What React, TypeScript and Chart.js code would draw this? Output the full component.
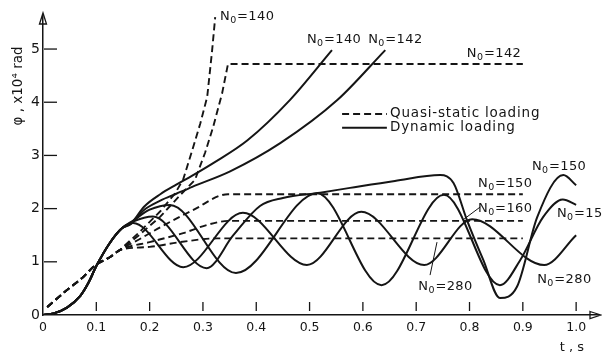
import React, { useEffect, useRef } from 'react';
import { Chart, registerables } from 'chart.js';

Chart.register(...registerables);

// ---------- axis ticks ----------
const tickT = [0, 0.1, 0.2, 0.3, 0.4, 0.5, 0.6, 0.7, 0.8, 0.9, 1.0];
const tickPhi = [0, 1, 2, 3, 4, 5];

// ---------- dynamic loading (solid) ----------
const dynTrunkT = [0, 0.02, 0.045, 0.07, 0.085, 0.1, 0.125, 0.148];
const dynTrunkPhi = [0, 0.03, 0.14, 0.36, 0.6, 0.92, 1.35, 1.63];

const dyn140T = [0.165, 0.19, 0.22, 0.25, 0.28, 0.32, 0.383, 0.463, 0.542];
const dyn140Phi = [1.72, 2.04, 2.27, 2.45, 2.62, 2.86, 3.28, 4.04, 4.98];

const dyn142T = [0.165, 0.19, 0.22, 0.25, 0.28, 0.351, 0.445, 0.552, 0.642];
const dyn142Phi = [1.71, 1.98, 2.15, 2.28, 2.41, 2.7, 3.23, 4.04, 4.98];

const dyn150T = [0.17, 0.206, 0.307, 0.357, 0.407, 0.45, 0.52, 0.576, 0.66, 0.745, 0.77, 0.795, 0.826, 0.857, 0.889, 0.927, 0.976, 1.0];
const dyn150Phi = [1.76, 1.85, 0.88, 1.5, 2.05, 2.2, 2.3, 2.39, 2.52, 2.63, 2.48, 1.79, 1.03, 0.32, 0.53, 1.84, 2.63, 2.44];

const dyn160T = [0.17, 0.2, 0.238, 0.362, 0.514, 0.635, 0.752, 0.857, 0.895, 0.938, 0.975, 1.0];
const dyn160Phi = [1.78, 1.98, 2.07, 0.79, 2.29, 0.56, 2.26, 0.56, 1.03, 1.84, 2.17, 2.07];

const dyn280T = [0.169, 0.263, 0.375, 0.495, 0.597, 0.715, 0.805, 0.94, 1.0];
const dyn280Phi = [1.73, 0.9, 1.92, 0.94, 1.94, 0.94, 1.8, 0.94, 1.5];

// ---------- quasi-static loading (dashed) ----------
const qsTrunkT = [0.008, 0.045, 0.075, 0.098, 0.126, 0.144];
const qsTrunkPhi = [0.15, 0.47, 0.71, 0.94, 1.09, 1.22];

const qs140T = [0.18, 0.22, 0.248, 0.263, 0.28, 0.295, 0.308, 0.317, 0.323];
const qs140Phi = [1.55, 1.95, 2.29, 2.55, 3.1, 3.6, 4.1, 4.95, 5.6];

const qs142T = [0.18, 0.22, 0.257, 0.285, 0.304, 0.319, 0.336, 0.347, 0.9];
const qs142Phi = [1.5, 1.85, 2.25, 2.54, 3.05, 3.53, 4.17, 4.72, 4.72];

const qs150T = [0.18, 0.22, 0.281, 0.347, 0.9];
const qs150Phi = [1.42, 1.65, 1.97, 2.27, 2.27];

const qs160T = [0.2, 0.263, 0.31, 0.35, 0.9];
const qs160Phi = [1.37, 1.54, 1.7, 1.77, 1.77];

const qs280T = [0.2, 0.257, 0.326, 0.9];
const qs280Phi = [1.28, 1.37, 1.44, 1.44];

const X_MAX = 1.041;
const Y_MAX = 5.64;
const INK = '#151515';
const FONT = '"DejaVu Sans", "Liberation Sans", sans-serif';

function pts(ts: number[], vs: number[], t2?: number[], v2?: number[]) {
  const out: { x: number; y: number }[] = [];
  if (t2 && v2) t2.forEach((t, i) => out.push({ x: t, y: v2[i] }));
  ts.forEach((t, i) => out.push({ x: t, y: vs[i] }));
  return out;
}

function solid(data: { x: number; y: number }[]) {
  return { data, borderColor: INK, borderWidth: 2, pointRadius: 0, fill: false, cubicInterpolationMode: 'monotone' as const };
}
function dashed(data: { x: number; y: number }[], straight = false) {
  return {
    data, borderColor: INK, borderWidth: 1.9, pointRadius: 0, fill: false, borderDash: [7, 4],
    cubicInterpolationMode: straight ? ('default' as const) : ('monotone' as const), tension: straight ? 0 : 0.4,
  };
}

type Lab = { t: number; v: number; rest: string };
const curveLabels: Lab[] = [
  { t: 0.332, v: 5.545, rest: '=140' },
  { t: 0.495, v: 5.11, rest: '=140' },
  { t: 0.61, v: 5.11, rest: '=142' },
  { t: 0.795, v: 4.85, rest: '=142' },
  { t: 0.917, v: 2.73, rest: '=150' },
  { t: 0.816, v: 2.41, rest: '=150' },
  { t: 0.816, v: 1.94, rest: '=160' },
  { t: 0.964, v: 1.84, rest: '=150' },
  { t: 0.927, v: 0.6, rest: '=280' },
  { t: 0.704, v: 0.47, rest: '=280' },
];

const decorPlugin = {
  id: 'decor',
  afterDraw(chart: any) {
    const ctx = chart.ctx as any;
    const xs = chart.scales.x;
    const ys = chart.scales.y;
    const px = (t: number) => xs.getPixelForValue(t);
    const py = (v: number) => ys.getPixelForValue(v);
    const x0 = px(0);
    const y0 = py(0);
    ctx.save();
    ctx.strokeStyle = INK;
    ctx.fillStyle = INK;
    ctx.lineWidth = 1.3;
    ctx.setLineDash([]);
    // tick marks inside the plot
    tickT.forEach((t) => {
      if (t === 0) return;
      ctx.beginPath();
      ctx.moveTo(px(t), y0 - 4);
      ctx.lineTo(px(t), y0 - 13);
      ctx.stroke();
    });
    tickPhi.forEach((v) => {
      if (v === 0) return;
      ctx.beginPath();
      ctx.moveTo(x0 + 1, py(v));
      ctx.lineTo(x0 + 14, py(v));
      ctx.stroke();
    });
    // arrows
    const top = chart.chartArea.top;
    const right = chart.chartArea.right;
    ctx.beginPath();
    ctx.moveTo(x0 - 3.5, top + 9);
    ctx.lineTo(x0, top - 2);
    ctx.lineTo(x0 + 3.5, top + 9);
    ctx.closePath();
    ctx.stroke();
    ctx.beginPath();
    ctx.moveTo(right - 8, y0 - 3.5);
    ctx.lineTo(right + 3, y0);
    ctx.lineTo(right - 8, y0 + 3.5);
    ctx.closePath();
    ctx.stroke();

    // curve labels N0=...
    const drawN0 = (x: number, y: number, rest: string) => {
      ctx.textAlign = 'left';
      ctx.textBaseline = 'alphabetic';
      ctx.letterSpacing = '0.4px';
      ctx.font = `13px ${FONT}`;
      ctx.fillText('N', x, y);
      const w1 = ctx.measureText('N').width;
      ctx.font = `9.5px ${FONT}`;
      ctx.fillText('0', x + w1, y + 3);
      const w2 = ctx.measureText('0').width;
      ctx.font = `13px ${FONT}`;
      ctx.fillText(rest, x + w1 + w2 + 0.5, y);
      ctx.letterSpacing = '0px';
    };
    curveLabels.forEach((l) => drawN0(px(l.t), py(l.v), l.rest));

    // leader lines
    ctx.lineWidth = 1;
    ctx.beginPath();
    ctx.moveTo(px(0.82), py(2.03));
    ctx.lineTo(px(0.788), py(1.79));
    ctx.moveTo(px(0.726), py(0.75));
    ctx.lineTo(px(0.739), py(1.37));
    ctx.stroke();

    // legend
    ctx.lineWidth = 1.9;
    ctx.setLineDash([7, 4]);
    ctx.beginPath();
    ctx.moveTo(px(0.561), py(3.78));
    ctx.lineTo(px(0.645), py(3.78));
    ctx.stroke();
    ctx.setLineDash([]);
    ctx.beginPath();
    ctx.moveTo(px(0.561), py(3.52));
    ctx.lineTo(px(0.645), py(3.52));
    ctx.stroke();
    ctx.font = `13.5px ${FONT}`;
    ctx.letterSpacing = '0.8px';
    ctx.textBaseline = 'middle';
    ctx.fillText('Quasi-static loading', px(0.651), py(3.78));
    ctx.fillText('Dynamic loading', px(0.651), py(3.52));
    ctx.letterSpacing = '0px';

    // axis titles
    ctx.textAlign = 'center';
    ctx.textBaseline = 'middle';
    ctx.font = `13px ${FONT}`;
    ctx.fillText('t , s', 572, 348);
    ctx.save();
    ctx.translate(18, 86);
    ctx.rotate(-Math.PI / 2);
    ctx.font = `13.5px ${FONT}`;
    ctx.fillText('φ , x10⁴ rad', 0, 0);
    ctx.restore();
    ctx.restore();
  },
};

export default function App() {
  const ref = useRef<HTMLCanvasElement | null>(null);
  useEffect(() => {
    if (!ref.current) return;
    const chart = new Chart(ref.current, {
      type: 'line',
      data: {
        datasets: [
          solid(pts(dyn140T, dyn140Phi, dynTrunkT, dynTrunkPhi)),
          solid(pts(dyn142T, dyn142Phi, dynTrunkT, dynTrunkPhi)),
          solid(pts(dyn150T, dyn150Phi, dynTrunkT, dynTrunkPhi)),
          solid(pts(dyn160T, dyn160Phi, dynTrunkT, dynTrunkPhi)),
          solid(pts(dyn280T, dyn280Phi, dynTrunkT, dynTrunkPhi)),
          dashed(pts(qs140T, qs140Phi, qsTrunkT, qsTrunkPhi), true),
          dashed(pts(qs142T, qs142Phi, qsTrunkT, qsTrunkPhi), true),
          dashed(pts(qs150T, qs150Phi, qsTrunkT, qsTrunkPhi)),
          dashed(pts(qs160T, qs160Phi, qsTrunkT, qsTrunkPhi)),
          dashed(pts(qs280T, qs280Phi, qsTrunkT, qsTrunkPhi)),
        ] as any,
      },
      options: {
        animation: false,
        responsive: false,
        devicePixelRatio: 1,
        layout: { padding: { top: 15, right: 4, left: 0, bottom: 0 } },
        plugins: { legend: { display: false }, tooltip: { enabled: false } },
        scales: {
          x: {
            type: 'linear',
            min: 0,
            max: X_MAX,
            afterBuildTicks: (s: any) => { s.ticks = tickT.map((v) => ({ value: v })); },
            afterFit: (s: any) => { s.height = 44; },
            grid: { display: false, drawTicks: false },
            border: { display: true, color: INK, width: 1.5 },
            ticks: {
              padding: 5, color: INK, autoSkip: false, maxRotation: 0,
              font: { family: FONT, size: 12.5 },
              callback: (v: any) => (Number(v) === 0 ? '0' : Number(v).toFixed(1)),
            },
          },
          y: {
            type: 'linear',
            min: 0,
            max: Y_MAX,
            afterBuildTicks: (s: any) => { s.ticks = tickPhi.map((v) => ({ value: v })); },
            afterFit: (s: any) => { s.width = 43; },
            grid: { display: false, drawTicks: false },
            border: { display: true, color: INK, width: 1.5 },
            ticks: {
              padding: 3, color: INK, autoSkip: false,
              font: { family: FONT, size: 14 },
              callback: (v: any) => String(v),
            },
          },
        },
      } as any,
      plugins: [decorPlugin],
    });
    return () => chart.destroy();
  }, []);
  return (
    <div style={{ position: 'absolute', left: 0, top: 0, width: 602, height: 359, background: '#fff' }}>
      <canvas ref={ref} width={602} height={359} style={{ display: 'block' }} />
    </div>
  );
}
